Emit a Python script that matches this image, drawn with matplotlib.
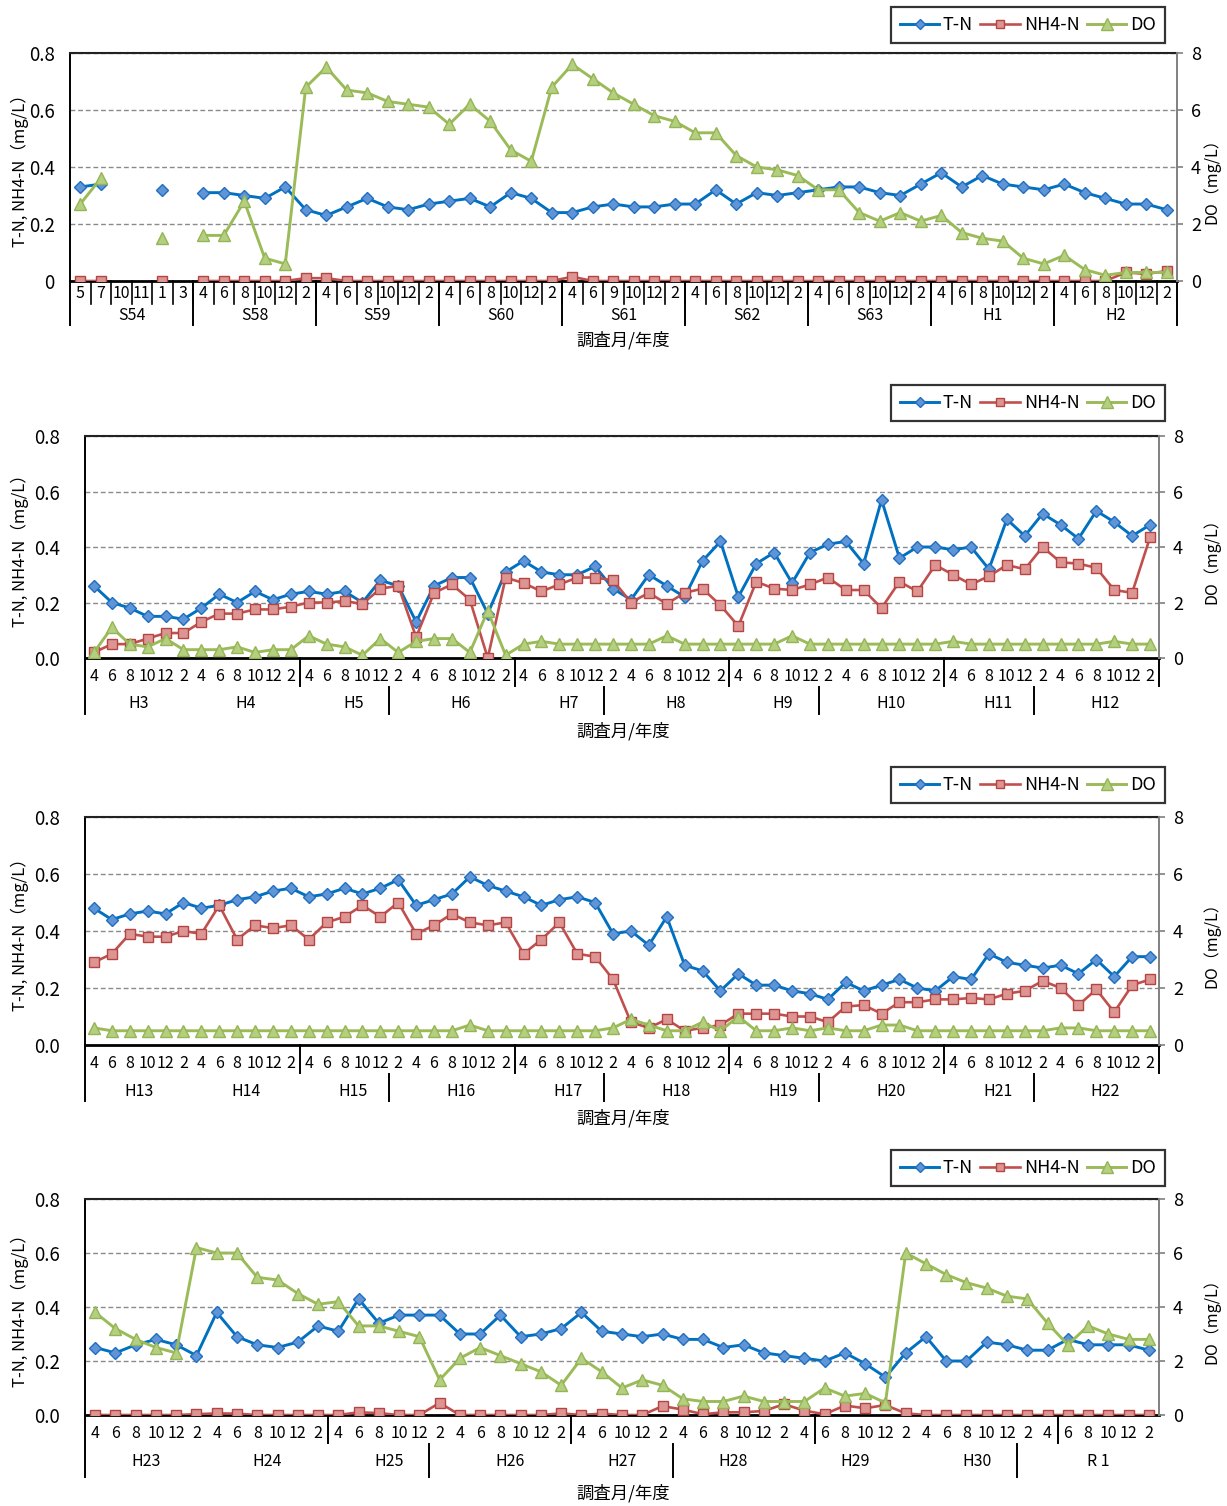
import numpy as np
import matplotlib
matplotlib.use('Agg')
import matplotlib.pyplot as plt
from matplotlib.transforms import blended_transform_factory
from matplotlib.lines import Line2D

plt.rcParams['font.family'] = ['Noto Sans CJK JP', 'DejaVu Sans']

nan = np.nan

# ---------------- Panel 1 : S54 - H2 ----------------
P1_YEARS = ['S54', 'S58', 'S59', 'S60', 'S61', 'S62', 'S63', 'H1', 'H2']
P1_MONTHS = [[5, 7, 10, 11, 1, 3], [4, 6, 8, 10, 12, 2], [4, 6, 8, 10, 12, 2],
             [4, 6, 8, 10, 12, 2], [4, 6, 9, 10, 12, 2], [4, 6, 8, 10, 12, 2],
             [4, 6, 8, 10, 12, 2], [4, 6, 8, 10, 12, 2], [4, 6, 8, 10, 12, 2]]
P1_TN = [0.33, 0.34, nan, nan, 0.32, nan,
         0.31, 0.31, 0.30, 0.29, 0.33, 0.25,
         0.23, 0.26, 0.29, 0.26, 0.25, 0.27,
         0.28, 0.29, 0.26, 0.31, 0.29, 0.24,
         0.24, 0.26, 0.27, 0.26, 0.26, 0.27,
         0.27, 0.32, 0.27, 0.31, 0.30, 0.31,
         0.32, 0.33, 0.33, 0.31, 0.30, 0.34,
         0.38, 0.33, 0.37, 0.34, 0.33, 0.32,
         0.34, 0.31, 0.29, 0.27, 0.27, 0.25]
P1_NH4 = [0, 0, nan, nan, 0, nan,
          0, 0, 0, 0, 0, 0.01,
          0.01, 0, 0, 0, 0, 0,
          0, 0, 0, 0, 0, 0,
          0.015, 0, 0, 0, 0, 0,
          0, 0, 0, 0, 0, 0,
          0, 0, 0, 0, 0, 0,
          0, 0, 0, 0, 0, 0,
          0, 0, 0, 0.03, 0.025, 0.035]
P1_DO = [2.7, 3.6, nan, nan, 1.5, nan,
         1.6, 1.6, 2.8, 0.8, 0.6, 6.8,
         7.5, 6.7, 6.6, 6.3, 6.2, 6.1,
         5.5, 6.2, 5.6, 4.6, 4.2, 6.8,
         7.6, 7.1, 6.6, 6.2, 5.8, 5.6,
         5.2, 5.2, 4.4, 4.0, 3.9, 3.7,
         3.2, 3.2, 2.4, 2.1, 2.4, 2.1,
         2.3, 1.7, 1.5, 1.4, 0.8, 0.6,
         0.9, 0.4, 0.2, 0.3, 0.3, 0.3]

# ---------------- Panel 2 : H3 - H12 ----------------
P2_YEARS = ['H3', 'H4', 'H5', 'H6', 'H7', 'H8', 'H9', 'H10', 'H11', 'H12']
P2_MONTHS = [[4, 6, 8, 10, 12, 2]] * 10
P2_TN = [0.26, 0.20, 0.18, 0.15, 0.15, 0.14,
         0.18, 0.23, 0.20, 0.24, 0.21, 0.23,
         0.24, 0.23, 0.24, 0.20, 0.28, 0.26,
         0.13, 0.26, 0.29, 0.29, 0.16, 0.31,
         0.35, 0.31, 0.30, 0.30, 0.33, 0.25,
         0.21, 0.30, 0.26, 0.22, 0.35, 0.42,
         0.22, 0.34, 0.38, 0.27, 0.38, 0.41,
         0.42, 0.34, 0.57, 0.36, 0.40, 0.40,
         0.39, 0.40, 0.32, 0.50, 0.44, 0.52,
         0.48, 0.43, 0.53, 0.49, 0.44, 0.48]
P2_NH4 = [0.02, 0.05, 0.05, 0.07, 0.09, 0.09,
          0.13, 0.16, 0.16, 0.175, 0.175, 0.185,
          0.20, 0.20, 0.205, 0.195, 0.25, 0.26,
          0.075, 0.235, 0.265, 0.21, 0.00, 0.29,
          0.27, 0.24, 0.265, 0.29, 0.29, 0.28,
          0.20, 0.235, 0.195, 0.235, 0.25, 0.19,
          0.115, 0.275, 0.25, 0.245, 0.265, 0.29,
          0.245, 0.245, 0.18, 0.275, 0.24, 0.335,
          0.30, 0.265, 0.295, 0.335, 0.32, 0.40,
          0.345, 0.34, 0.325, 0.245, 0.235, 0.435]
P2_DO = [0.2, 1.1, 0.5, 0.4, 0.7, 0.3,
         0.3, 0.3, 0.4, 0.2, 0.3, 0.3,
         0.8, 0.5, 0.4, 0.1, 0.7, 0.2,
         0.6, 0.7, 0.7, 0.2, 1.7, 0.1,
         0.5, 0.6, 0.5, 0.5, 0.5, 0.5,
         0.5, 0.5, 0.8, 0.5, 0.5, 0.5,
         0.5, 0.5, 0.5, 0.8, 0.5, 0.5,
         0.5, 0.5, 0.5, 0.5, 0.5, 0.5,
         0.6, 0.5, 0.5, 0.5, 0.5, 0.5,
         0.5, 0.5, 0.5, 0.6, 0.5, 0.5]

# ---------------- Panel 3 : H13 - H22 ----------------
P3_YEARS = ['H13', 'H14', 'H15', 'H16', 'H17', 'H18', 'H19', 'H20', 'H21', 'H22']
P3_MONTHS = [[4, 6, 8, 10, 12, 2]] * 10
P3_TN = [0.48, 0.44, 0.46, 0.47, 0.46, 0.50,
         0.48, 0.49, 0.51, 0.52, 0.54, 0.55,
         0.52, 0.53, 0.55, 0.53, 0.55, 0.58,
         0.49, 0.51, 0.53, 0.59, 0.56, 0.54,
         0.52, 0.49, 0.51, 0.52, 0.50, 0.39,
         0.40, 0.35, 0.45, 0.28, 0.26, 0.19,
         0.25, 0.21, 0.21, 0.19, 0.18, 0.16,
         0.22, 0.19, 0.21, 0.23, 0.20, 0.19,
         0.24, 0.23, 0.32, 0.29, 0.28, 0.27,
         0.28, 0.25, 0.30, 0.24, 0.31, 0.31]
P3_NH4 = [0.29, 0.32, 0.39, 0.38, 0.38, 0.40,
          0.39, 0.49, 0.37, 0.42, 0.41, 0.42,
          0.37, 0.43, 0.45, 0.49, 0.45, 0.50,
          0.39, 0.42, 0.46, 0.43, 0.42, 0.43,
          0.32, 0.37, 0.43, 0.32, 0.31, 0.23,
          0.08, 0.06, 0.09, 0.05, 0.06, 0.07,
          0.11, 0.11, 0.11, 0.10, 0.10, 0.08,
          0.135, 0.14, 0.11, 0.15, 0.15, 0.16,
          0.16, 0.165, 0.16, 0.18, 0.19, 0.225,
          0.20, 0.14, 0.195, 0.115, 0.21, 0.23]
P3_DO = [0.6, 0.5, 0.5, 0.5, 0.5, 0.5,
         0.5, 0.5, 0.5, 0.5, 0.5, 0.5,
         0.5, 0.5, 0.5, 0.5, 0.5, 0.5,
         0.5, 0.5, 0.5, 0.7, 0.5, 0.5,
         0.5, 0.5, 0.5, 0.5, 0.5, 0.6,
         0.9, 0.7, 0.5, 0.5, 0.8, 0.5,
         1.0, 0.5, 0.5, 0.6, 0.5, 0.6,
         0.5, 0.5, 0.7, 0.7, 0.5, 0.5,
         0.5, 0.5, 0.5, 0.5, 0.5, 0.5,
         0.6, 0.6, 0.5, 0.5, 0.5, 0.5]

# ---------------- Panel 4 : H23 - R1 ----------------
P4_YEARS = ['H23', 'H24', 'H25', 'H26', 'H27', 'H28', 'H29', 'H30', 'R 1']
P4_MONTHS = [[4, 6, 8, 10, 12, 2], [4, 6, 8, 10, 12, 2], [4, 6, 8, 10, 12, 2],
             [4, 6, 8, 10, 12, 2], [4, 6, 10, 12, 2], [4, 6, 8, 10, 12, 2],
             [4, 6, 8, 10, 12, 2], [4, 6, 8, 10, 12, 2], [4, 6, 8, 10, 12, 2]]
P4_TN = [0.25, 0.23, 0.26, 0.28, 0.26, 0.22,
         0.38, 0.29, 0.26, 0.25, 0.27, 0.33,
         0.31, 0.43, 0.34, 0.37, 0.37, 0.37,
         0.30, 0.30, 0.37, 0.29, 0.30, 0.32,
         0.38, 0.31, 0.30, 0.29, 0.30,
         0.28, 0.28, 0.25, 0.26, 0.23, 0.22,
         0.21, 0.20, 0.23, 0.19, 0.14, 0.23,
         0.29, 0.20, 0.20, 0.27, 0.26, 0.24,
         0.24, 0.28, 0.26, 0.26, 0.26, 0.24]
P4_NH4 = [0, 0, 0, 0, 0, 0.003,
          0.006, 0.005, 0, 0, 0, 0,
          0, 0.01, 0.007, 0, 0, 0.045,
          0, 0, 0, 0, 0, 0.006,
          0, 0.005, 0, 0, 0.033,
          0.02, 0.003, 0.01, 0.01, 0.015, 0.04,
          0.016, 0.003, 0.035, 0.025, 0.037, 0.006,
          0, 0, 0, 0, 0, 0,
          0, 0, 0, 0, 0, 0]
P4_DO = [3.8, 3.2, 2.8, 2.5, 2.3, 6.2,
         6.0, 6.0, 5.1, 5.0, 4.5, 4.1,
         4.2, 3.3, 3.3, 3.1, 2.9, 1.3,
         2.1, 2.5, 2.2, 1.9, 1.6, 1.1,
         2.1, 1.6, 1.0, 1.3, 1.1,
         0.6, 0.5, 0.5, 0.7, 0.5, 0.5,
         0.5, 1.0, 0.7, 0.8, 0.45, 6.0,
         5.6, 5.2, 4.9, 4.7, 4.4, 4.3,
         3.4, 2.6, 3.3, 3.0, 2.8, 2.8]

LEFT_TICKS = [0.0, 0.2, 0.4, 0.6, 0.8]
RIGHT_TICKS = [0, 2, 4, 6, 8]
SERIES_NAMES = ['T-N', 'NH4-N', 'DO']
YLABEL_L = 'T-N, NH4-N（mg/L）'
YLABEL_R = 'DO（mg/L）'
XLABEL = '調査月/年度'

# ---------------- styling ----------------
W, H = 1227, 1506
TN_STYLE = dict(color='#0070C0', marker='D', mfc='#5F95D6', mec='#1F6FC0', ms=6.4, lw=2.1, mew=1.0)
NH_STYLE = dict(color='#C0504D', marker='s', mfc='#DC9593', mec='#B54542', ms=7.0, lw=1.9, mew=1.0)
DO_STYLE = dict(color='#9BBB59', marker='^', mfc='#B5CF80', mec='#94B553', ms=8.8, lw=2.1, mew=1.0)

fig = plt.figure(figsize=(W / 100, H / 100), dpi=100)


def fy(p):
    return 1 - p / H


PANELS = [
    dict(years=P1_YEARS, months=P1_MONTHS, tn=P1_TN, nh=P1_NH4, do=P1_DO,
         box=(70, 1177, 53, 281), month_y=294, year_y=316, xlabel_y=340, legend_top=7,
         ticklabels=['0', '0.2', '0.4', '0.6', '0.8'], lpad=11, style='every'),
    dict(years=P2_YEARS, months=P2_MONTHS, tn=P2_TN, nh=P2_NH4, do=P2_DO,
         box=(85, 1159, 436, 658), month_y=676, year_y=704, xlabel_y=731, legend_top=385,
         ticklabels=['0.0', '0.2', '0.4', '0.6', '0.8'], lpad=18, style='multi',
         row1=[11.5, 23.5, 35.5, 47.5, 59.5], row2=[16.5, 28.5, 40.5, 52.5], r1h=28, r2h=56),
    dict(years=P3_YEARS, months=P3_MONTHS, tn=P3_TN, nh=P3_NH4, do=P3_DO,
         box=(85, 1159, 817, 1045), month_y=1063, year_y=1091, xlabel_y=1118, legend_top=767,
         ticklabels=['0.0', '0.2', '0.4', '0.6', '0.8'], lpad=18, style='multi',
         row1=[11.5, 23.5, 35.5, 47.5, 59.5], row2=[16.5, 28.5, 40.5, 52.5], r1h=28, r2h=56),
    dict(years=P4_YEARS, months=P4_MONTHS, tn=P4_TN, nh=P4_NH4, do=P4_DO,
         box=(85, 1159, 1199, 1415), month_y=1433, year_y=1462, xlabel_y=1493, legend_top=1150,
         ticklabels=['0.0', '0.2', '0.4', '0.6', '0.8'], lpad=18, style='multi',
         row1=[11.5, 23.5, 35.5, 47.5], row2=[16.5, 28.5, 45.5], r1h=28, r2h=62),
]

for cfg in PANELS:
    l, r, t, b = cfg['box']
    ax = fig.add_axes([l / W, 1 - b / H, (r - l) / W, (b - t) / H])
    ax2 = ax.twinx()
    months = [m for grp in cfg['months'] for m in grp]
    n = len(months)
    x = np.arange(n)

    ax.plot(x, cfg['tn'], zorder=3, **TN_STYLE)
    ax.plot(x, cfg['nh'], zorder=4, **NH_STYLE)
    ax2.plot(x, cfg['do'], zorder=3, **DO_STYLE)

    ax.set_xlim(-0.5, n - 0.5)
    ax.set_ylim(0, 0.8)
    ax2.set_ylim(0, 8)
    ax.set_xticks([])
    ax2.set_xticks([])

    ax.set_yticks(LEFT_TICKS)
    ax.set_yticklabels(cfg['ticklabels'])
    ax.tick_params(axis='y', length=0, pad=cfg['lpad'], labelsize=13.5)
    ax2.set_yticks(RIGHT_TICKS)
    ax2.tick_params(axis='y', direction='out', length=4, width=1.2, color='#808080',
                    pad=6, labelsize=13)

    ax.grid(axis='y', color='#8a8a8a', linestyle=(0, (3.5, 2)), linewidth=1.0)
    ax.set_axisbelow(True)

    for s in ['top', 'right', 'bottom', 'left']:
        ax2.spines[s].set_visible(s == 'right')
    ax2.spines['right'].set_color('#808080')
    ax2.spines['right'].set_linewidth(1.4)
    ax.spines['right'].set_visible(False)
    ax.spines['left'].set_color('black')
    ax.spines['left'].set_linewidth(1.4)
    ax.spines['bottom'].set_color('black')
    ax.spines['bottom'].set_linewidth(2.0)
    ax.spines['bottom'].set_zorder(2.5)
    ax.spines['top'].set_color('#222222')
    ax.spines['top'].set_linewidth(1.5)
    ax.spines['top'].set_linestyle((0, (2.5, 0.6)))

    tr = blended_transform_factory(ax.transData, fig.transFigure)

    def vline(xd, y0, y1, lw=1.4):
        ax.add_line(Line2D([xd, xd], [fy(y0), fy(y1)], transform=tr, color='black',
                           lw=lw, clip_on=False))

    for i, m in enumerate(months):
        ax.text(i, fy(cfg['month_y']), str(m), transform=tr, ha='center', va='center',
                fontsize=11.5, clip_on=False)
    start = 0
    bounds = [-0.5]
    for name, grp in zip(cfg['years'], cfg['months']):
        c = start + (len(grp) - 1) / 2
        ax.text(c, fy(cfg['year_y']), name, transform=tr, ha='center', va='center',
                fontsize=11.5, clip_on=False)
        start += len(grp)
        bounds.append(start - 0.5)

    if cfg['style'] == 'every':
        for i in range(n - 1):
            vline(i + 0.5, b, b + 23, lw=1.2)
        for bx in bounds:
            vline(bx, b, b + 44)
    else:
        vline(-0.5, b, b + cfg['r2h'])
        for sx in cfg['row1']:
            vline(sx, b, b + cfg['r1h'])
        for sx in cfg['row2']:
            vline(sx, b + cfg['r1h'] + 1, b + cfg['r2h'])

    fig.text(623 / W, fy(cfg['xlabel_y']), XLABEL, ha='center', va='center', fontsize=12.5)
    fig.text(20 / W, fy((t + b) / 2), YLABEL_L, ha='center', va='center', rotation=90,
             fontsize=12)
    fig.text(1212 / W, fy((t + b) / 2 + 10), YLABEL_R, ha='center', va='center', rotation=90,
             fontsize=11.5)

    handles = [Line2D([], [], label=SERIES_NAMES[0], **{**TN_STYLE, 'ms': 5.5}),
               Line2D([], [], label=SERIES_NAMES[1], **{**NH_STYLE, 'ms': 6}),
               Line2D([], [], label=SERIES_NAMES[2], **{**DO_STYLE, 'ms': 8})]
    leg = fig.legend(handles=handles, loc='upper right',
                     bbox_to_anchor=(1165 / W, fy(cfg['legend_top'])),
                     bbox_transform=fig.transFigure, ncol=3, frameon=True, fancybox=False,
                     edgecolor='black', fontsize=13, handlelength=2.2, handletextpad=0.2,
                     columnspacing=0.4, borderpad=0.5, borderaxespad=0)
    leg.get_frame().set_linewidth(1.6)

fig.savefig('out.png', dpi=100, facecolor='white')
